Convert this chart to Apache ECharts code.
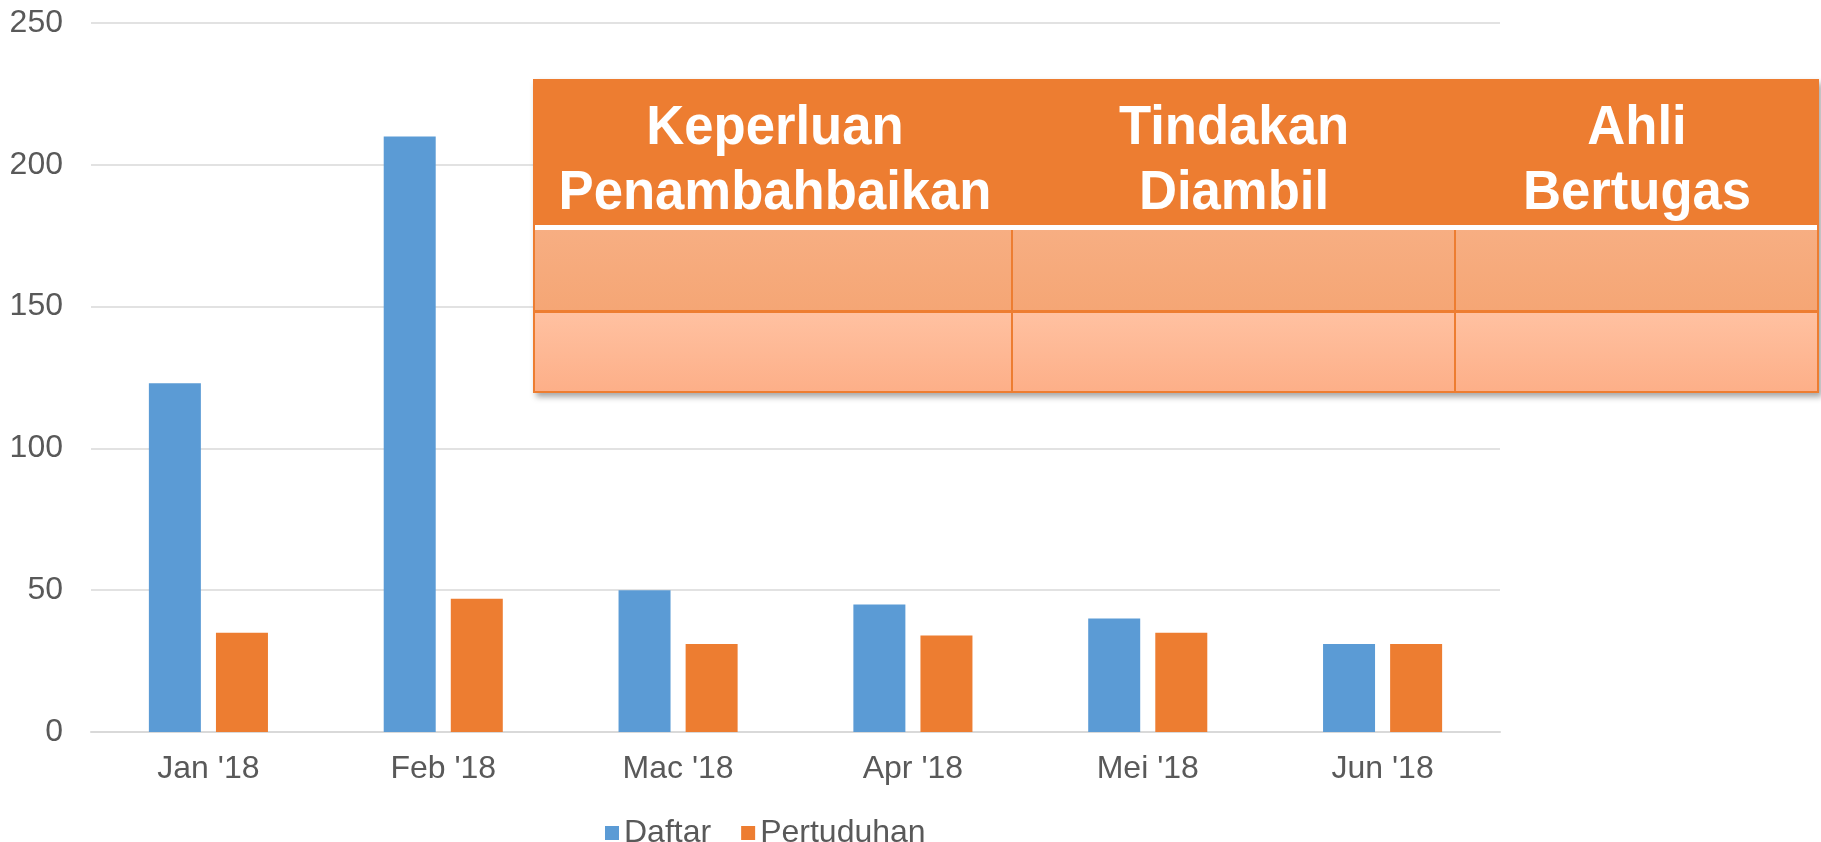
<!DOCTYPE html>
<html>
<head>
<meta charset="utf-8">
<script src="https://cdn.jsdelivr.net/npm/echarts@6/dist/echarts.min.js"></script>
<style>
  html, body { margin: 0; padding: 0; background: #fff; }
  #main { width: 1821px; height: 842px; }
</style>
</head>
<body>
<div id="main"></div>
<script>
// data
const months = ["Jan '18", "Feb '18", "Mac '18", "Apr '18", "Mei '18", "Jun '18"];
const daftar = [123, 210, 50, 45, 40, 31];
const pertuduhan = [35, 47, 31, 34, 35, 31];
const yTicks = { min: 0, max: 250, interval: 50 };
// table headings (two lines each)
const tableHeads = [
  ['Keperluan', 'Penambahbaikan'],
  ['Tindakan', 'Diambil'],
  ['Ahli', 'Bertugas']
];

const chart = echarts.init(document.getElementById('main'));
const font = "'Liberation Sans', Arial, sans-serif";
const grey = '#595959';

// table overlay - drawn with graphic elements
const tb = { left: 533, top: 79, right: 1819, headBottom: 225, row1: 230, row2: 311, bottom: 393 };
const cols = [533, 1012, 1455, 1819];
const centers = [775, 1234, 1637];

let graphics = [];
// shadow + header
graphics.push({
  type: 'rect', z: 100,
  shape: { x: tb.left, y: tb.top, width: tb.right - tb.left, height: tb.bottom - tb.top },
  style: { fill: '#ED7D31', shadowBlur: 6, shadowOffsetX: 3, shadowOffsetY: 4, shadowColor: 'rgba(0,0,0,0.35)' }
});
// white separator
graphics.push({
  type: 'rect', z: 101,
  shape: { x: tb.left + 2, y: tb.headBottom, width: tb.right - tb.left - 4, height: 5 },
  style: { fill: '#fff' }
});
// rows
graphics.push({
  type: 'rect', z: 101,
  shape: { x: tb.left + 2, y: tb.row1, width: tb.right - tb.left - 4, height: tb.row2 - tb.row1 - 1 },
  style: { fill: new echarts.graphic.LinearGradient(0, 0, 0, 1, [
    { offset: 0, color: '#F7AE82' }, { offset: 1, color: '#F5A675' }]) }
});
graphics.push({
  type: 'rect', z: 101,
  shape: { x: tb.left + 2, y: tb.row2 + 2, width: tb.right - tb.left - 4, height: tb.bottom - tb.row2 - 4 },
  style: { fill: new echarts.graphic.LinearGradient(0, 0, 0, 1, [
    { offset: 0, color: '#FFC1A1' }, { offset: 1, color: '#FDAF88' }]) }
});
// column dividers
[cols[1], cols[2]].forEach(x => {
  graphics.push({
    type: 'line', z: 102,
    shape: { x1: x, y1: tb.row1, x2: x, y2: tb.bottom },
    style: { stroke: '#ED7D31', lineWidth: 2 }
  });
});
// header text (slightly condensed like the original)
tableHeads.forEach((lines, i) => {
  lines.forEach((t, j) => {
    graphics.push({
      type: 'text', z: 103,
      x: centers[i], y: 157 + j * 65,
      originX: 0, originY: 0,
      scaleX: 0.94,
      style: {
        text: t, fill: '#fff', font: 'bold 56px ' + font,
        textAlign: 'center', textVerticalAlign: 'bottom'
      }
    });
  });
});

const option = {
  animation: false,
  grid: { left: 91, right: 321, top: 23, bottom: 110 },
  legend: {
    left: 600, top: 812,
    icon: 'rect', itemWidth: 14, itemHeight: 14, itemGap: 30,
    textStyle: { color: grey, fontSize: 32, fontFamily: font },
    data: ['Daftar', 'Pertuduhan']
  },
  xAxis: {
    type: 'category',
    data: months,
    axisLine: { lineStyle: { color: '#D9D9D9', width: 2 } },
    axisTick: { show: false },
    axisLabel: { color: grey, fontSize: 32, fontFamily: font, margin: 21 }
  },
  yAxis: {
    type: 'value',
    min: yTicks.min, max: yTicks.max, interval: yTicks.interval,
    axisLine: { show: false },
    axisTick: { show: false },
    axisLabel: { color: grey, fontSize: 32, fontFamily: font, margin: 28 },
    splitLine: { lineStyle: { color: '#D9D9D9', width: 1.5 } }
  },
  series: [
    {
      name: 'Daftar', type: 'bar', data: daftar,
      barWidth: 52, barGap: '29%',
      itemStyle: { color: '#5B9BD5' }
    },
    {
      name: 'Pertuduhan', type: 'bar', data: pertuduhan,
      barWidth: 52,
      itemStyle: { color: '#ED7D31' }
    }
  ],
  graphic: graphics
};
chart.setOption(option);
</script>
</body>
</html>
